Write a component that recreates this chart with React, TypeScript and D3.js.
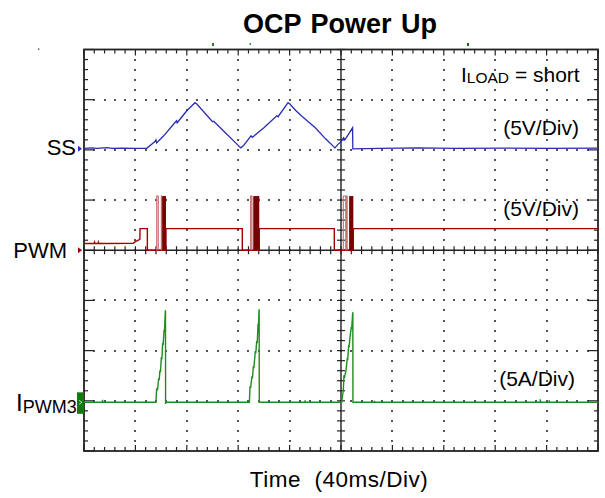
import React from "react";
import * as d3 from "d3";

// ---------- data (time in ms, channel values in V / A) ----------
const TITLE = "OCP Power Up";
const X_LABEL = "Time  (40ms/Div)";
const TIME_DIVS = [0, 40, 80, 120, 160, 200, 240, 280, 320, 360, 400];
const V_DIVS = [-4, -3, -2, -1, 0, 1, 2, 3, 4];

const CHANNELS = ["SS", "PWM", "IPWM3"];
const CH_SCALE = [5, 5, 5]; // units per division
const CH_OFFSET = [2.02, 0, -3.03]; // zero position in divisions

const SS_DATA: [number, number][] = [
  [0, 0.05], [6, 0.1], [10, 0.05], [18, 0.12], [22, 0.05], [30, 0.08], [40, 0.05], [48.8, 0.05],
  [55, 0.7], [56, 0.9], [56.5, 0.6], [62, 1.3], [70, 2.5], [72, 2.8], [72.5, 2.6], [80, 3.8],
  [86.4, 4.6], [88, 4.45], [100, 2.7], [101, 2.75], [110, 1.6], [118, 0.6], [122, 0.1], [124, 0.3],
  [130, 1.3], [131, 1.15], [140, 2.1], [150, 3.3], [151, 3.2], [158.8, 4.6], [160, 4.5], [165, 3.8],
  [170, 3.2], [180, 2.1], [188, 1.0], [195.3, 0.1], [198, 0.5], [200, 0.7], [202, 1.1], [203, 0.9],
  [206, 1.5], [209, 2.1], [209.2, 0.0], [230, 0.05], [260, 0.1], [290, 0.05], [330, 0.08], [360, 0.05], [400, 0.08],
];

const PWM_DATA: [number, number][] = [
  [0, 0.67], [8, 0.67], [8.2, 0.8], [8.6, 0.67], [11, 0.67], [11.2, 0.8], [11.6, 0.67], [38.3, 0.7],
  [40, 0.85], [42.3, 1.0], [43.5, 1.1], [43.6, 2.15], [49.3, 2.15], [49.3, 0], [63.8, 0], [63.8, 2.15],
  [123.2, 2.15], [123.2, 0], [136.4, 0], [136.4, 2.15], [194.8, 2.15], [194.8, 0], [209.6, 0], [209.6, 2.15],
  [400, 2.15],
];
const PWM_PULSE_LEVEL = 5.4;
const PWM_PULSES: [number, number][] = [
  [56.6, 57.8], [60.2, 60.5], [129.7, 130.7], [201.8, 203.7], [204.4, 204.8],
];
const PWM_BURSTS: [number, number][] = [
  [60.8, 63.8], [131.7, 136.4], [206.3, 209.6],
];

const I_DATA: [number, number][] = [
  [0, 0], [14.3, 0], [14.4, 0.25], [14.6, 0], [56.0, 0], [56.1, 0.4], [56.6, 1.4], [57.2, 1.2],
  [58.1, 2.4], [58.5, 2.2], [59.1, 3.2], [59.5, 3.0], [60.2, 4.5], [60.6, 4.3], [61.2, 5.9], [61.6, 5.7],
  [62.3, 7.2], [62.6, 7.0], [63.3, 9.1], [63.4, 9.1], [63.5, -0.15], [63.8, 0],
  [128.7, 0], [129.2, 1.6], [129.6, 1.4], [130.7, 2.6], [131.1, 2.4], [131.8, 3.6], [132.2, 3.4],
  [133.3, 5.1], [133.7, 4.9], [134.4, 6.1], [134.8, 5.9], [135.4, 7.6], [135.8, 7.5], [136.2, 9.2],
  [136.3, 9.2], [136.4, 0], [172, 0], [172.1, 0.2], [172.3, 0],
  [200.5, 0], [201.8, 1.2], [202.3, 2.7], [202.6, 2.4], [203.9, 3.2], [204.9, 4.4], [205.2, 4.2],
  [206, 5.7], [206.3, 5.5], [207, 6.5], [208, 7.5], [208.3, 7.3], [209.1, 8.9], [209.2, 8.9], [209.3, 0],
  [226, 0], [226.1, 0.15], [226.3, 0], [355, 0], [355.1, 0.3], [355.3, 0], [362, 0], [362.1, 0.2],
  [362.3, 0], [400, 0],
];

const RIGHT_LABELS = ["(5V/Div)", "(5V/Div)", "(5A/Div)"];
const LOAD_LABEL = ["I", "LOAD", " = short"];

// ---------- layout ----------
const W = 605;
const H = 498;
const L = 84;
const R = 598;
const T = 49.5;
const B = 451;
const FONT = "'Liberation Sans', Arial, Helvetica, sans-serif";

const SS_COLOR = "#2b2bb3";
const PWM_COLOR = "#a00000";
const PWM_DARK = "#780000";
const PWM_LIGHT = "#c46b6b";
const I_COLOR = "#1f8c1f";

export default function App() {
  const x = d3.scaleLinear().domain([0, 400]).range([L, R]);
  const y = d3.scaleLinear().domain([-4, 4]).range([B, T]);
  const chY = (ch: number, v: number) => y(v / CH_SCALE[ch] + CH_OFFSET[ch]);

  const line = (ch: number) =>
    d3.line<[number, number]>().x((d) => x(d[0])).y((d) => chY(ch, d[1]));

  const minorX = d3.range(0, 401, 8);
  const minorY = d3.range(-4, 4.001, 0.2);
  const cx = x(200);
  const cy = y(0);

  const ticks: JSX.Element[] = [];
  minorX.forEach((t, i) => {
    const major = i % 5 === 0;
    const xx = x(t);
    ticks.push(<line key={"tt" + i} x1={xx} x2={xx} y1={T} y2={T + (major ? 6 : 4)} />);
    ticks.push(<line key={"tb" + i} x1={xx} x2={xx} y1={B} y2={B - (major ? 6 : 4)} />);
    ticks.push(<line key={"tc" + i} x1={xx} x2={xx} y1={cy - 4} y2={cy + 4} />);
  });
  minorY.forEach((v, i) => {
    const major = i % 5 === 0;
    const yy = y(v);
    ticks.push(<line key={"tl" + i} x1={L} x2={L + (major ? 10 : 4)} y1={yy} y2={yy} />);
    ticks.push(<line key={"tr" + i} x1={R} x2={R - (major ? 10 : 4)} y1={yy} y2={yy} />);
    ticks.push(<line key={"tv" + i} x1={cx - 4} x2={cx + 4} y1={yy} y2={yy} />);
  });

  const dots: JSX.Element[] = [];
  TIME_DIVS.slice(1, -1).forEach((t) => {
    if (t === 200) return;
    minorY.forEach((v, i) => {
      if (i === 0 || i === minorY.length - 1) return;
      dots.push(<rect key={"dv" + t + "_" + i} x={Math.round(x(t)) - 1} y={Math.round(y(v)) - 1} width={2} height={2} />);
    });
  });
  V_DIVS.slice(1, -1).forEach((v) => {
    if (v === 0) return;
    minorX.forEach((t, i) => {
      if (i === 0 || i === minorX.length - 1) return;
      dots.push(<rect key={"dh" + v + "_" + i} x={Math.round(x(t)) - 1} y={Math.round(y(v)) - 1} width={2} height={2} />);
    });
  });

  const pulseTop = chY(1, PWM_PULSE_LEVEL);
  const pwmZero = chY(1, 0);

  return (
    <svg width={W} height={H} style={{ position: "absolute", left: 0, top: 0, background: "#fff" }}>
      <rect x={0} y={0} width={W} height={H} fill="#fff" />
      <text x={340} y={33} textAnchor="middle" fontFamily={FONT} fontWeight="bold" fontSize={27} wordSpacing={2} fill="#000" style={{ whiteSpace: "pre" }}>
        {TITLE}
      </text>

      {/* grid dots */}
      <g fill="#555">{dots}</g>

      {/* ticks and center axes */}
      <g stroke="#222" strokeWidth={1.2}>
        {ticks}
        <line x1={L} x2={R} y1={cy} y2={cy} strokeWidth={1.4} />
        <line x1={cx} x2={cx} y1={T} y2={B} strokeWidth={1.4} />
      </g>
      <rect x={L} y={T} width={R - L} height={B - T} fill="none" stroke="#222" strokeWidth={1.8} />

      {/* trigger markers above the grid */}
      <rect x={212} y={43} width={2} height={3} fill="#2e7d2e" />
      <rect x={249.5} y={43} width={1.5} height={2} fill="#3a9a3a" />
      <rect x={467} y={43} width={2} height={3} fill="#1f5f1f" />
      <rect x={38} y={48.5} width={1.3} height={1.3} fill="#333" />

      {/* traces */}
      <path d={line(0)(SS_DATA) || ""} fill="none" stroke={SS_COLOR} strokeWidth={1.3} />
      <path d={line(1)(PWM_DATA) || ""} fill="none" stroke={PWM_COLOR} strokeWidth={1.4} />
      {PWM_PULSES.map((p, i) => (
        <path
          key={"pp" + i}
          d={`M${x(p[0])},${pwmZero}V${pulseTop}H${x(p[1])}V${pwmZero}`}
          fill="none"
          stroke={PWM_LIGHT}
          strokeWidth={1.1}
        />
      ))}
      {PWM_BURSTS.map((p, i) => (
        <rect key={"pb" + i} x={x(p[0])} y={pulseTop} width={x(p[1]) - x(p[0])} height={pwmZero - pulseTop} fill={PWM_DARK} />
      ))}
      <path d={line(2)(I_DATA) || ""} fill="none" stroke={I_COLOR} strokeWidth={1.4} />

      {/* channel markers */}
      <path d={`M${L - 6},${chY(0, 0) - 3}L${L - 2},${chY(0, 0)}L${L - 6},${chY(0, 0) + 3}Z`} fill={SS_COLOR} />
      <path d={`M${L - 6},${chY(1, 0) - 3}L${L - 2},${chY(1, 0)}L${L - 6},${chY(1, 0) + 3}Z`} fill={PWM_COLOR} />
      <rect x={L - 7} y={chY(2, 0) - 10} width={7} height={21.5} fill="#117a11" />
      <path d={`M${L - 5},${chY(2, 0) - 2}L${L - 2},${chY(2, 0)}L${L - 5},${chY(2, 0) + 2}`} fill="none" stroke="#cfe8cf" strokeWidth={0.8} />

      {/* channel names */}
      <g fontFamily={FONT} fill="#000">
        <text x={76} y={chY(0, 0) + 6} textAnchor="end" fontSize={22}>{CHANNELS[0]}</text>
        <text x={67} y={chY(1, 0) + 7.5} textAnchor="end" fontSize={22}>{CHANNELS[1]}</text>
        <text x={16} y={chY(2, 0) + 8.5} fontSize={24}>
          I<tspan fontSize={18} dy={2}>{CHANNELS[2].slice(1)}</tspan>
        </text>
      </g>

      {/* right side labels */}
      <g fontFamily={FONT} fill="#000" fontSize={21}>
        <text x={461} y={81.5}>
          {LOAD_LABEL[0]}
          <tspan fontSize={15.5} dy={1.5}>{LOAD_LABEL[1]}</tspan>
          <tspan dy={-1.5} style={{ whiteSpace: "pre" }}>{LOAD_LABEL[2]}</tspan>
        </text>
        <text x={579} y={135} textAnchor="end">{RIGHT_LABELS[0]}</text>
        <text x={579} y={216} textAnchor="end">{RIGHT_LABELS[1]}</text>
        <text x={575} y={386} textAnchor="end">{RIGHT_LABELS[2]}</text>
      </g>

      <text x={339} y={487} textAnchor="middle" fontFamily={FONT} fontSize={22.5} letterSpacing={0.5} fill="#000" style={{ whiteSpace: "pre" }}>
        {X_LABEL}
      </text>
    </svg>
  );
}
